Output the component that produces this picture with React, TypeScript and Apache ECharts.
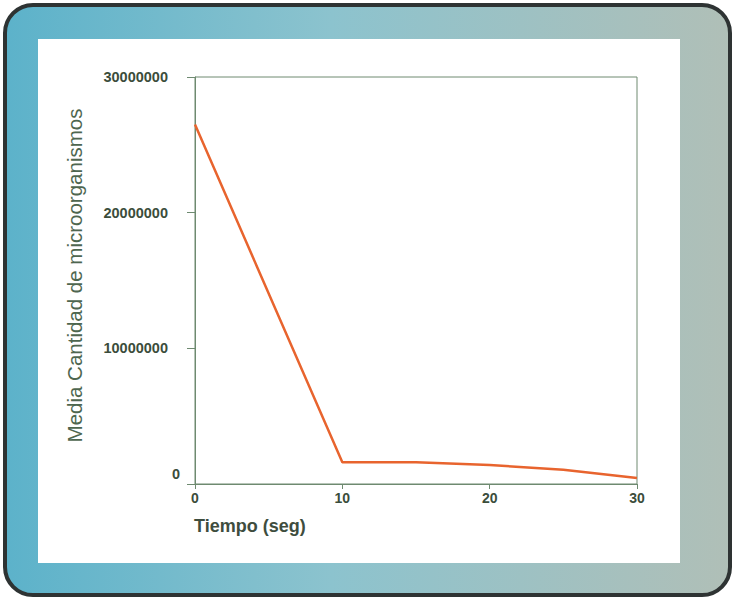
import React, { useEffect, useRef } from "react";
import * as echarts from "echarts";

const timeSeconds = [0, 10, 15, 20, 25, 30];
const meanCount = [26500000, 1600000, 1600000, 1400000, 1050000, 450000];
const xTicks = [0, 10, 20, 30];
const yTicks = [0, 10000000, 20000000, 30000000];

export default function App() {
  const ref = useRef<HTMLDivElement>(null);
  useEffect(() => {
    if (!ref.current) return;
    const chart = echarts.init(ref.current, null, { renderer: "svg" });
    const textColor = "#3b4d3b";
    const axisColor = "#6e8a70";
    const fam = "'Liberation Sans', Arial, sans-serif";
    chart.setOption({
      animation: false,
      backgroundColor: "transparent",
      graphic: [
        {
          type: "rect",
          z: -10,
          shape: { x: 5, y: 5, width: 725, height: 590, r: 28 },
          style: {
            fill: new echarts.graphic.LinearGradient(0, 0, 1, 0, [
              { offset: 0, color: "#5cb2ca" },
              { offset: 0.45, color: "#8cc3ce" },
              { offset: 1, color: "#b0bfb7" },
            ]),
            stroke: "#2e3333",
            lineWidth: 4,
          },
        },
        {
          type: "rect",
          z: -9,
          shape: { x: 38, y: 39, width: 642, height: 524 },
          style: { fill: "#ffffff" },
        },
        {
          type: "text",
          z: 5,
          left: 194,
          top: 517,
          style: {
            text: "Tiempo (seg)",
            fill: "#3e4d3e",
            font: "bold 18px 'Liberation Sans', Arial, sans-serif",
          },
        },
      ],
      grid: {
        left: 195,
        top: 77,
        right: 98,
        bottom: 116,
        show: true,
        borderColor: axisColor,
        borderWidth: 1,
        backgroundColor: "transparent",
      },
      xAxis: {
        type: "value",
        min: 0,
        max: 30,
        interval: 10,
        axisLine: { show: true, lineStyle: { color: axisColor, width: 1 } },
        axisTick: { show: true, length: 5, lineStyle: { color: axisColor } },
        splitLine: { show: false },
        axisLabel: {
          color: textColor,
          fontFamily: fam,
          fontWeight: "bold",
          fontSize: 14,
          margin: 7,
          customValues: xTicks,
        },
      },
      yAxis: {
        type: "value",
        min: 0,
        max: 30000000,
        interval: 10000000,
        name: "Media Cantidad de microorganismos",
        nameLocation: "middle",
        nameGap: 110,
        nameTextStyle: {
          color: "#4e664f",
          fontFamily: fam,
          fontSize: 20.5,
          padding: [0, 0, 0, 10],
        },
        axisLine: { show: true, lineStyle: { color: axisColor, width: 1 } },
        axisTick: { show: true, length: 8, lineStyle: { color: axisColor } },
        splitLine: { show: false },
        axisLabel: {
          color: textColor,
          fontFamily: fam,
          fontWeight: "bold",
          fontSize: 14.5,
          margin: 15,
          customValues: yTicks,
          formatter: (v: number) => (v === 0 ? "{z|0}" : "{n|" + v + "}"),
          rich: {
            z: {
              color: textColor,
              fontFamily: fam,
              fontWeight: "bold",
              fontSize: 14.5,
              padding: [0, 0, 20, 0],
            },
            n: {
              color: textColor,
              fontFamily: fam,
              fontWeight: "bold",
              fontSize: 14.5,
              padding: [0, 12, 0, 0],
            },
          },
        },
      },
      series: [
        {
          type: "line",
          data: timeSeconds.map((t, i) => [t, meanCount[i]]),
          showSymbol: false,
          smooth: false,
          lineStyle: { color: "#e8642e", width: 2.5 },
          z: 3,
        },
      ],
    });
    return () => chart.dispose();
  }, []);
  return (
    <div
      ref={ref}
      style={{ position: "absolute", left: 0, top: 0, width: 735, height: 600 }}
    />
  );
}
